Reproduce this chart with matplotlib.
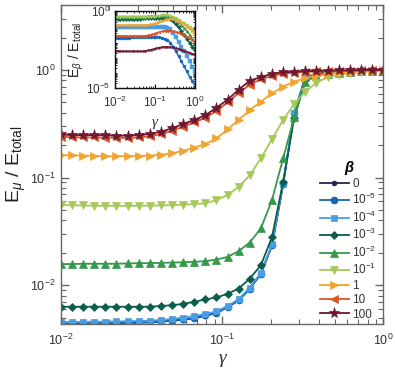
import matplotlib
matplotlib.use("Agg")
import matplotlib.pyplot as plt
from matplotlib.ticker import LogLocator, NullFormatter

plt.rcParams['font.family'] = ['Liberation Sans', 'DejaVu Sans']
plt.rcParams['mathtext.fontset'] = 'custom'
plt.rcParams['mathtext.rm'] = 'Liberation Sans'
plt.rcParams['mathtext.it'] = 'Liberation Sans:italic'
plt.rcParams['mathtext.bf'] = 'Liberation Sans:bold'

GAMMA = [0.01, 0.01172, 0.01374, 0.01610, 0.01887, 0.02212, 0.02593, 0.03039,
         0.03562, 0.04175, 0.04894, 0.05736, 0.06723, 0.07880, 0.09237, 0.1083,
         0.1269, 0.1487, 0.1743, 0.2043, 0.2395, 0.2807, 0.3290, 0.3857,
         0.4520, 0.5298, 0.6210, 0.7279, 0.8532, 1.0]

BETA_LABELS = ['0', r'$10^{-5}$', r'$10^{-4}$', r'$10^{-3}$', r'$10^{-2}$',
               r'$10^{-1}$', '1', '10', '100']

# Main panel: E_mu / E_total
EMU_B0 = [0.00440, 0.00440, 0.00440, 0.00441, 0.00442, 0.00443, 0.00445, 0.00448,
          0.00452, 0.00458, 0.00466, 0.00478, 0.00492, 0.00520, 0.00550, 0.00625,
          0.00720, 0.00925, 0.0127, 0.0234, 0.086, 0.40, 0.85, 0.92,
          0.95, 0.965, 0.975, 0.985, 0.99, 1.0]
EMU_B1E5 = [0.00442, 0.00442, 0.00442, 0.00443, 0.00444, 0.00445, 0.00447, 0.00450,
            0.00454, 0.00460, 0.00468, 0.00480, 0.00494, 0.00523, 0.00553, 0.00630,
            0.00725, 0.0093, 0.0128, 0.0236, 0.087, 0.40, 0.85, 0.92,
            0.95, 0.965, 0.975, 0.985, 0.99, 1.0]
EMU_B1E4 = [0.00455, 0.00455, 0.00456, 0.00457, 0.00458, 0.00460, 0.00462, 0.00465,
            0.00468, 0.00475, 0.00485, 0.00500, 0.00515, 0.00540, 0.00570, 0.00640,
            0.00740, 0.0095, 0.0130, 0.0240, 0.088, 0.40, 0.84, 0.90,
            0.94, 0.96, 0.97, 0.98, 0.99, 1.0]
EMU_B1E3 = [0.0063, 0.0063, 0.0063, 0.0063, 0.0063, 0.0063, 0.0063, 0.0063,
            0.0063, 0.0064, 0.0065, 0.0067, 0.0070, 0.00736, 0.00768, 0.0083,
            0.0093, 0.0115, 0.0153, 0.028, 0.091, 0.36, 0.80, 0.90,
            0.93, 0.95, 0.965, 0.975, 0.985, 0.99]
EMU_B1E2 = [0.0157, 0.0157, 0.0158, 0.0158, 0.0158, 0.0158, 0.0159, 0.0160,
            0.0160, 0.0161, 0.0162, 0.0163, 0.0165, 0.0167, 0.0173, 0.0183,
            0.0207, 0.0249, 0.0337, 0.0618, 0.151, 0.363, 0.78, 0.88,
            0.92, 0.94, 0.96, 0.97, 0.98, 0.99]
EMU_B1E1 = [0.0555, 0.0553, 0.0550, 0.0548, 0.0546, 0.0545, 0.0545, 0.0546,
            0.0548, 0.0551, 0.0555, 0.0560, 0.0567, 0.0575, 0.0618, 0.0687,
            0.0822, 0.105, 0.151, 0.227, 0.343, 0.483, 0.63, 0.762,
            0.855, 0.90, 0.93, 0.955, 0.97, 0.98]
EMU_B1 = [0.162, 0.161, 0.160, 0.159, 0.158, 0.158, 0.158, 0.159,
          0.160, 0.163, 0.168, 0.177, 0.190, 0.205, 0.231, 0.280,
          0.343, 0.425, 0.507, 0.607, 0.700, 0.778, 0.840, 0.885,
          0.920, 0.945, 0.960, 0.975, 0.985, 0.99]
EMU_B10 = [0.240, 0.237, 0.236, 0.236, 0.235, 0.234, 0.234, 0.236,
           0.242, 0.254, 0.272, 0.298, 0.325, 0.360, 0.415, 0.500,
           0.610, 0.730, 0.820, 0.880, 0.920, 0.945, 0.960, 0.970,
           0.975, 0.980, 0.985, 0.990, 0.995, 1.0]
EMU_B100 = [0.252, 0.248, 0.248, 0.248, 0.247, 0.245, 0.245, 0.248,
            0.254, 0.267, 0.287, 0.315, 0.343, 0.380, 0.445, 0.530,
            0.655, 0.795, 0.860, 0.920, 0.950, 0.965, 0.975, 0.980,
            0.985, 0.990, 0.990, 0.995, 1.0, 1.0]

# Inset: E_beta / E_total (beta = 0 gives zero, not shown on log axis)
EB_B1E5 = [0.019, 0.019, 0.019, 0.019, 0.0192, 0.0194, 0.0196, 0.0198,
           0.020, 0.0202, 0.0204, 0.0206, 0.0208, 0.021, 0.021, 0.021,
           0.020, 0.018, 0.016, 0.013, 0.009, 0.005, 0.0025, 0.0012,
           5.5e-4, 2.6e-4, 1.2e-4, 5.5e-5, 2.8e-5, 1.35e-5]
EB_B1E4 = [0.095, 0.095, 0.095, 0.095, 0.096, 0.096, 0.097, 0.097,
           0.098, 0.098, 0.099, 0.099, 0.100, 0.100, 0.100, 0.100,
           0.100, 0.099, 0.095, 0.085, 0.065, 0.040, 0.020, 0.010,
           0.005, 0.0025, 0.0012, 5.5e-4, 2.5e-4, 1.15e-4]
EB_B1E3 = [0.33, 0.33, 0.33, 0.33, 0.33, 0.33, 0.33, 0.33,
           0.33, 0.33, 0.34, 0.34, 0.35, 0.35, 0.36, 0.37,
           0.38, 0.38, 0.38, 0.35, 0.30, 0.22, 0.15, 0.09,
           0.05, 0.028, 0.016, 0.009, 0.005, 0.003]
EB_B1E2 = [0.45, 0.45, 0.45, 0.45, 0.45, 0.45, 0.45, 0.45,
           0.45, 0.45, 0.45, 0.45, 0.46, 0.46, 0.47, 0.48,
           0.49, 0.50, 0.50, 0.50, 0.45, 0.38, 0.29, 0.20,
           0.13, 0.08, 0.05, 0.03, 0.015, 0.008]
EB_B1E1 = [0.42, 0.42, 0.42, 0.42, 0.42, 0.42, 0.42, 0.42,
           0.42, 0.42, 0.42, 0.42, 0.42, 0.43, 0.45, 0.48,
           0.52, 0.55, 0.56, 0.55, 0.50, 0.43, 0.35, 0.28,
           0.21, 0.16, 0.12, 0.09, 0.065, 0.045]
EB_B1 = [0.12, 0.12, 0.12, 0.12, 0.12, 0.12, 0.12, 0.12,
         0.12, 0.12, 0.12, 0.125, 0.13, 0.14, 0.155, 0.175,
         0.20, 0.23, 0.26, 0.29, 0.30, 0.29, 0.26, 0.22,
         0.18, 0.14, 0.10, 0.075, 0.05, 0.035]
EB_B10 = [0.024, 0.024, 0.024, 0.024, 0.024, 0.024, 0.024, 0.024,
          0.024, 0.024, 0.024, 0.025, 0.027, 0.030, 0.034, 0.039,
          0.044, 0.049, 0.052, 0.053, 0.052, 0.049, 0.044, 0.039,
          0.033, 0.027, 0.022, 0.017, 0.013, 0.010]
EB_B100 = [0.0025, 0.0025, 0.0025, 0.0025, 0.0025, 0.0025, 0.0025, 0.0025,
           0.0025, 0.0025, 0.0025, 0.0026, 0.0028, 0.0031, 0.0035, 0.0039,
           0.0043, 0.0046, 0.0048, 0.0048, 0.0047, 0.0044, 0.0040, 0.0036,
           0.0031, 0.0027, 0.0023, 0.0020, 0.0017, 0.0014]

MAIN_SERIES = [EMU_B0, EMU_B1E5, EMU_B1E4, EMU_B1E3, EMU_B1E2, EMU_B1E1, EMU_B1, EMU_B10, EMU_B100]
INSET_SERIES = [None, EB_B1E5, EB_B1E4, EB_B1E3, EB_B1E2, EB_B1E1, EB_B1, EB_B10, EB_B100]

COLORS = ['#26264f', '#1664b8', '#4a9ee0', '#0c5e4c', '#35984a', '#a7c85a',
          '#f0a431', '#d9552b', '#6e1730']
MARKERS = ['o', 'o', 's', 'D', '^', 'v', '>', '<', '*']
MSIZES = [3.5, 5.0, 4.3, 4.5, 5.8, 5.8, 5.8, 5.8, 8.0]

fig = plt.figure(figsize=(3.95, 3.73), dpi=100)
ax = fig.add_axes([0.154, 0.131, 0.816, 0.856])

for ys, c, m, ms, lab in zip(MAIN_SERIES, COLORS, MARKERS, MSIZES, BETA_LABELS):
    ax.plot(GAMMA, ys, color=c, marker=m, markersize=ms, lw=1.3, label=lab,
            markeredgewidth=0.5, markeredgecolor=c, clip_on=True)

ax.set_xscale('log')
ax.set_yscale('log')
ax.set_xlim(0.01, 1.0)
ax.set_ylim(0.00434, 4.03)

spine_col = '#666666'
for s in ax.spines.values():
    s.set_color(spine_col)
    s.set_linewidth(1.0)
ax.tick_params(which='both', direction='in', top=True, right=True,
               colors=spine_col, labelcolor='#333333', labelsize=9)
ax.tick_params(which='major', length=6, width=1.0)
ax.tick_params(which='minor', length=3.5, width=0.8)
ax.xaxis.set_major_locator(LogLocator(base=10, numticks=10))
ax.xaxis.set_minor_locator(LogLocator(base=10, subs=range(2, 10), numticks=10))
ax.yaxis.set_major_locator(LogLocator(base=10, numticks=10))
ax.yaxis.set_minor_locator(LogLocator(base=10, subs=range(2, 10), numticks=10))
ax.xaxis.set_minor_formatter(NullFormatter())
ax.yaxis.set_minor_formatter(NullFormatter())
ax.tick_params(axis='x', pad=6)

ax.set_ylabel(r'E$_\mu$ / E$_{\rm total}$', fontsize=14, color='#222222', labelpad=2)
ax.set_xlabel('γ', fontsize=14, family='Liberation Serif', style='italic',
              color='#333333', labelpad=2)

leg = ax.legend(loc='upper left', bbox_to_anchor=(0.805, 0.51), frameon=False,
                fontsize=8.5, handlelength=2.4, labelspacing=0.2, handletextpad=0.3,
                borderaxespad=0, borderpad=0)
leg.set_title('β', prop={'weight': 'bold', 'style': 'italic', 'size': 10.5})
for t in leg.get_texts():
    t.set_color('#333333')

# inset
ins = fig.add_axes([0.291, 0.764, 0.203, 0.206])
for ys, c, m in zip(INSET_SERIES, COLORS, MARKERS):
    if ys is None:
        continue
    ins.plot(GAMMA, ys, color=c, marker=m, markersize=2.2, lw=1.0,
             markeredgewidth=0.3)
ins.set_xscale('log')
ins.set_yscale('log')
ins.set_xlim(0.01, 1.0)
ins.set_ylim(1e-5, 1.0)
ins.set_yticks([1e-5, 1.0])
ins.set_yticklabels([r'$10^{-5}$', r'$10^{0}$'])
ins.set_xticks([0.01, 0.1, 1.0])
ins.set_xticklabels([r'$10^{-2}$', r'$10^{-1}$', r'$10^{0}$'])
ins.yaxis.set_minor_locator(LogLocator(base=10, subs=range(2, 10), numticks=10))
ins.xaxis.set_minor_locator(LogLocator(base=10, subs=range(2, 10), numticks=10))
ins.xaxis.set_minor_formatter(NullFormatter())
ins.yaxis.set_minor_formatter(NullFormatter())
ins.tick_params(which='both', direction='in', top=True, right=True,
                labelsize=8.5, colors='#111111', labelcolor='#333333')
ins.tick_params(which='major', length=3, width=0.8)
ins.tick_params(which='minor', length=1.5, width=0.6)
ins.tick_params(axis='x', pad=5)
for s in ins.spines.values():
    s.set_color('#111111')
    s.set_linewidth(1.0)
ins.set_ylabel(r'E$_\beta$ / E$_{\rm total}$', fontsize=10, color='#222222', labelpad=0)
ins.set_xlabel('γ', fontsize=11, family='Liberation Serif', style='italic',
               color='#333333', labelpad=4)

fig.savefig('out.png', dpi=100)
